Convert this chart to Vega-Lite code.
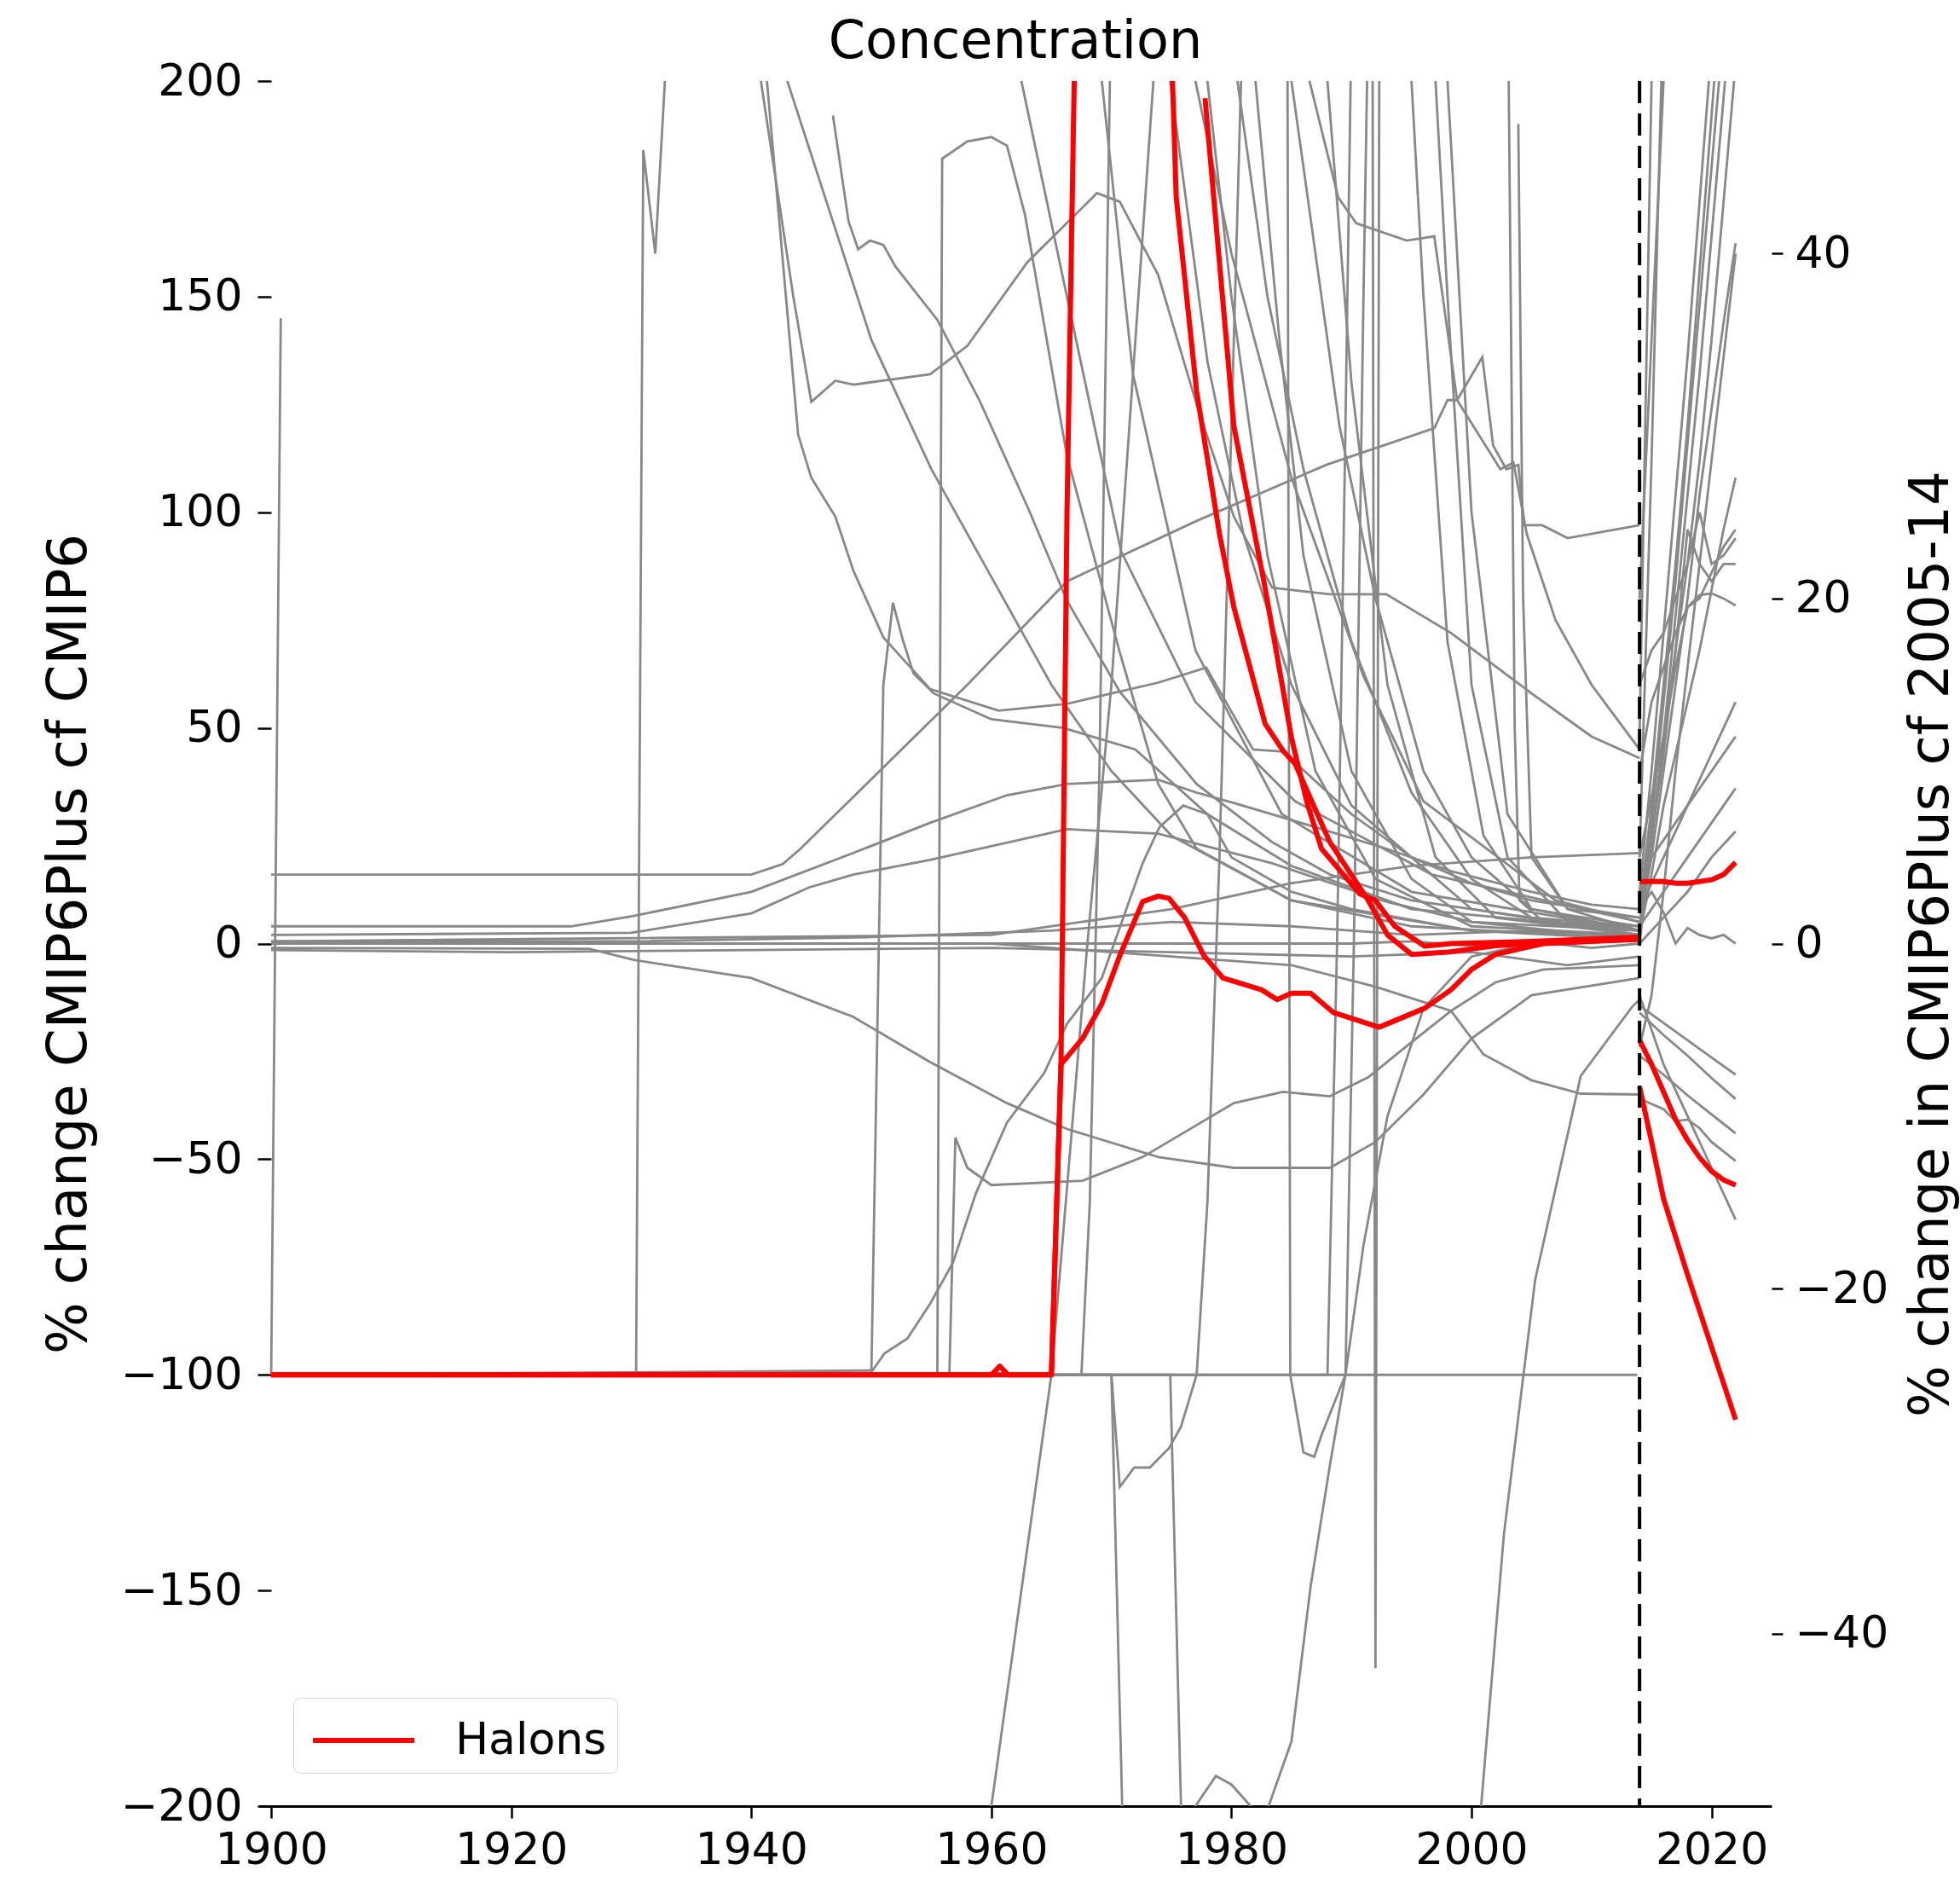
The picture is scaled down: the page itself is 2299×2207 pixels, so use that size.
{
"$schema":"https://vega.github.io/schema/vega-lite/v6.json",
"autosize":{"type":"none"},
"width":1774,"height":2023,
"padding":{"left":304,"top":95,"right":221,"bottom":89},
"background":"white",
"title":{"text":"Concentration","fontSize":62,"fontWeight":"normal","font":"DejaVu Sans","color":"black","anchor":"middle","offset":-12},
"config":{"view":{"stroke":null},"font":"DejaVu Sans","axis":{"labelFont":"DejaVu Sans","titleFont":"DejaVu Sans","labelColor":"black","tickColor":"black","titleColor":"black","titleFontWeight":"normal","grid":false,"labelFlush":false,"labelOverlap":false}},
"datasets":{
"gl":[
{"s":"a01","x":1900,"y":0},{"s":"a01","x":1990,"y":0},{"s":"a01","x":1995,"y":0.5},{"s":"a01","x":2000,"y":-0.5},{"s":"a01","x":2005,"y":0.5},{"s":"a01","x":2010,"y":-1},{"s":"a01","x":2014,"y":0},
{"s":"a02","x":1900,"y":0.5},{"s":"a02","x":1930,"y":0.5},{"s":"a02","x":1950,"y":1.5},{"s":"a02","x":1965,"y":3},{"s":"a02","x":1975,"y":5},{"s":"a02","x":1985,"y":4},{"s":"a02","x":1995,"y":2},{"s":"a02","x":2005,"y":3},{"s":"a02","x":2014,"y":2},
{"s":"a03","x":1900,"y":-1.5},{"s":"a03","x":1920,"y":-2},{"s":"a03","x":1940,"y":-1.5},{"s":"a03","x":1960,"y":-1},{"s":"a03","x":1975,"y":-2},{"s":"a03","x":1990,"y":-3},{"s":"a03","x":2000,"y":-2},{"s":"a03","x":2008,"y":-5},{"s":"a03","x":2014,"y":-3},
{"s":"a04","x":1900,"y":16},{"s":"a04","x":1940,"y":16},{"s":"a04","x":1942.6,"y":18.4},{"s":"a04","x":1944.1,"y":22},{"s":"a04","x":1948.5,"y":34},{"s":"a04","x":1958,"y":60},{"s":"a04","x":1966.3,"y":84},{"s":"a04","x":1977.1,"y":98},{"s":"a04","x":1987.9,"y":111},{"s":"a04","x":1996.9,"y":119.5},{"s":"a04","x":1998,"y":126},{"s":"a04","x":1998.8,"y":126},{"s":"a04","x":2000.9,"y":136},{"s":"a04","x":2001.8,"y":115.5},{"s":"a04","x":2002.9,"y":110},{"s":"a04","x":2003.9,"y":111},{"s":"a04","x":2004.4,"y":97},{"s":"a04","x":2005.9,"y":97},{"s":"a04","x":2008,"y":94},{"s":"a04","x":2014,"y":97},
{"s":"a05","x":1900,"y":4},{"s":"a05","x":1925,"y":4},{"s":"a05","x":1930,"y":6.3},{"s":"a05","x":1940,"y":12},{"s":"a05","x":1948.5,"y":21},{"s":"a05","x":1954.9,"y":28},{"s":"a05","x":1961.3,"y":34.4},{"s":"a05","x":1966.3,"y":37},{"s":"a05","x":1973.9,"y":38},{"s":"a05","x":1977.1,"y":35},{"s":"a05","x":1980.2,"y":32.6},{"s":"a05","x":1986.6,"y":27.3},{"s":"a05","x":1992.9,"y":22},{"s":"a05","x":1998.3,"y":16.8},{"s":"a05","x":2005,"y":12},{"s":"a05","x":2010,"y":9},{"s":"a05","x":2014,"y":8},
{"s":"a06","x":1900,"y":2},{"s":"a06","x":1930,"y":2.5},{"s":"a06","x":1940,"y":7},{"s":"a06","x":1944.8,"y":13},{"s":"a06","x":1948.5,"y":16},{"s":"a06","x":1954.9,"y":19.4},{"s":"a06","x":1966.3,"y":26.5},{"s":"a06","x":1973.9,"y":25.5},{"s":"a06","x":1983.4,"y":18.6},{"s":"a06","x":1992.9,"y":9.7},{"s":"a06","x":2000,"y":5},{"s":"a06","x":2014,"y":3},
{"s":"a07","x":1900,"y":-1},{"s":"a07","x":1926.5,"y":-1.2},{"s":"a07","x":1930.2,"y":-3.8},{"s":"a07","x":1940,"y":-8},{"s":"a07","x":1948.5,"y":-17},{"s":"a07","x":1954.9,"y":-27.5},{"s":"a07","x":1961.3,"y":-37},{"s":"a07","x":1966.3,"y":-43},{"s":"a07","x":1973.9,"y":-49.5},{"s":"a07","x":1980.2,"y":-52},{"s":"a07","x":1988.2,"y":-52},{"s":"a07","x":1992,"y":-46},{"s":"a07","x":1996,"y":-35},{"s":"a07","x":2000,"y":-22},{"s":"a07","x":2005,"y":-12},{"s":"a07","x":2014,"y":-8},
{"s":"a08","x":1900,"y":-100},{"s":"a08","x":1956.5,"y":-100},{"s":"a08","x":1957,"y":-45},{"s":"a08","x":1958,"y":-52},{"s":"a08","x":1960,"y":-56},{"s":"a08","x":1967.6,"y":-55},{"s":"a08","x":1972.6,"y":-49.5},{"s":"a08","x":1980.2,"y":-37},{"s":"a08","x":1984.3,"y":-34.4},{"s":"a08","x":1988.2,"y":-35.4},{"s":"a08","x":1991.4,"y":-31},{"s":"a08","x":1994.5,"y":-24},{"s":"a08","x":1998.3,"y":-15.6},{"s":"a08","x":2002,"y":-9},{"s":"a08","x":2006,"y":-6},{"s":"a08","x":2014,"y":-5},
{"s":"a09","x":1900,"y":0},{"s":"a09","x":1960,"y":0},{"s":"a09","x":1985,"y":-5},{"s":"a09","x":1992,"y":-10},{"s":"a09","x":1998.3,"y":-15.6},{"s":"a09","x":2001,"y":-25.7},{"s":"a09","x":2005,"y":-31.7},{"s":"a09","x":2009.1,"y":-34.8},{"s":"a09","x":2014,"y":-35},
{"s":"a10","x":1900,"y":300},{"s":"a10","x":1939.5,"y":300},{"s":"a10","x":1940.8,"y":200},{"s":"a10","x":1943.5,"y":150},{"s":"a10","x":1945,"y":125.6},{"s":"a10","x":1947,"y":130.5},{"s":"a10","x":1948.5,"y":129.6},{"s":"a10","x":1954.9,"y":132},{"s":"a10","x":1958,"y":138.6},{"s":"a10","x":1963,"y":158},{"s":"a10","x":1968.8,"y":174},{"s":"a10","x":1970.7,"y":172},{"s":"a10","x":1973.9,"y":155},{"s":"a10","x":1977.1,"y":125},{"s":"a10","x":1980.2,"y":99},{"s":"a10","x":1983.4,"y":82.5},{"s":"a10","x":1988.2,"y":81},{"s":"a10","x":1992.9,"y":81},{"s":"a10","x":1998.3,"y":72},{"s":"a10","x":2005,"y":58},{"s":"a10","x":2010,"y":48},{"s":"a10","x":2014,"y":43},
{"s":"a11","x":1900,"y":-100},{"s":"a11","x":1930.4,"y":-100},{"s":"a11","x":1931,"y":184},{"s":"a11","x":1932,"y":160},{"s":"a11","x":1932.8,"y":200},{"s":"a11","x":1933.5,"y":300},{"s":"a11","x":1940,"y":300},{"s":"a11","x":1941.3,"y":200},{"s":"a11","x":1943.9,"y":118},{"s":"a11","x":1945,"y":108},{"s":"a11","x":1947,"y":99},{"s":"a11","x":1948.5,"y":86.5},{"s":"a11","x":1951,"y":71},{"s":"a11","x":1954.9,"y":59},{"s":"a11","x":1960.6,"y":54},{"s":"a11","x":1966.3,"y":55.6},{"s":"a11","x":1973.9,"y":60.5},{"s":"a11","x":1977.9,"y":64},{"s":"a11","x":1981.8,"y":45},{"s":"a11","x":1984.3,"y":44.5},{"s":"a11","x":1985.3,"y":42},{"s":"a11","x":1990,"y":30},{"s":"a11","x":1995,"y":20},{"s":"a11","x":2000,"y":14},{"s":"a11","x":2005,"y":10},{"s":"a11","x":2014,"y":6},
{"s":"a12","x":1946.8,"y":192},{"s":"a12","x":1948.1,"y":167.5},{"s":"a12","x":1948.9,"y":161},{"s":"a12","x":1949.9,"y":163},{"s":"a12","x":1951,"y":162},{"s":"a12","x":1952,"y":157},{"s":"a12","x":1955.5,"y":144.6},{"s":"a12","x":1959,"y":126},{"s":"a12","x":1963.1,"y":100.7},{"s":"a12","x":1966.3,"y":79.5},{"s":"a12","x":1970.7,"y":58.4},{"s":"a12","x":1977.1,"y":37},{"s":"a12","x":1983.4,"y":23.5},{"s":"a12","x":1988.2,"y":16},{"s":"a12","x":1995,"y":10},{"s":"a12","x":2005,"y":6},{"s":"a12","x":2014,"y":4},
{"s":"a13","x":1900,"y":-100},{"s":"a13","x":1955.5,"y":-100},{"s":"a13","x":1955.9,"y":182},{"s":"a13","x":1958,"y":186},{"s":"a13","x":1960,"y":187},{"s":"a13","x":1961.3,"y":185},{"s":"a13","x":1962.8,"y":169},{"s":"a13","x":1966.3,"y":113},{"s":"a13","x":1970.7,"y":67.5},{"s":"a13","x":1973.9,"y":37},{"s":"a13","x":1977.1,"y":22},{"s":"a13","x":1985,"y":10},{"s":"a13","x":1995,"y":4},{"s":"a13","x":2014,"y":1},
{"s":"a14","x":1900,"y":-100},{"s":"a14","x":1950,"y":-100},{"s":"a14","x":1951,"y":60},{"s":"a14","x":1951.8,"y":79},{"s":"a14","x":1952.6,"y":70.6},{"s":"a14","x":1953.5,"y":62.7},{"s":"a14","x":1955.2,"y":58},{"s":"a14","x":1960,"y":52},{"s":"a14","x":1966,"y":50},{"s":"a14","x":1972,"y":45},{"s":"a14","x":1978,"y":30},{"s":"a14","x":1985,"y":18},{"s":"a14","x":1995,"y":8},{"s":"a14","x":2014,"y":3},
{"s":"a15","x":1900,"y":-100},{"s":"a15","x":1950.1,"y":-99},{"s":"a15","x":1951.1,"y":-95},{"s":"a15","x":1953,"y":-91.6},{"s":"a15","x":1954.9,"y":-83.5},{"s":"a15","x":1956.8,"y":-74},{"s":"a15","x":1958.7,"y":-58},{"s":"a15","x":1961.3,"y":-41.5},{"s":"a15","x":1964.4,"y":-30},{"s":"a15","x":1966.3,"y":-18.6},{"s":"a15","x":1969.2,"y":-8},{"s":"a15","x":1972.6,"y":18.6},{"s":"a15","x":1974,"y":27},{"s":"a15","x":1976,"y":32},{"s":"a15","x":1978,"y":30},{"s":"a15","x":1980,"y":20},{"s":"a15","x":1985,"y":12},{"s":"a15","x":1990,"y":8},{"s":"a15","x":2000,"y":3},{"s":"a15","x":2014,"y":2},
{"s":"a16","x":1900,"y":-300},{"s":"a16","x":1959,"y":-300},{"s":"a16","x":1960,"y":-200},{"s":"a16","x":1965,"y":-100},{"s":"a16","x":1966.5,"y":-50},{"s":"a16","x":1968,"y":0},{"s":"a16","x":1970,"y":60},{"s":"a16","x":1972,"y":140},{"s":"a16","x":1973.5,"y":200},{"s":"a16","x":1975,"y":280},{"s":"a16","x":1980,"y":280},{"s":"a16","x":1982,"y":200},{"s":"a16","x":1984,"y":140},{"s":"a16","x":1986,"y":90},{"s":"a16","x":1990,"y":40},{"s":"a16","x":1995,"y":15},{"s":"a16","x":2000,"y":5},{"s":"a16","x":2014,"y":1},
{"s":"a17","x":1900,"y":-100},{"s":"a17","x":1967.5,"y":-100},{"s":"a17","x":1968.2,"y":-60},{"s":"a17","x":1969,"y":40},{"s":"a17","x":1969.6,"y":150},{"s":"a17","x":1970.2,"y":260},{"s":"a17","x":1976,"y":260},{"s":"a17","x":1978,"y":200},{"s":"a17","x":1980,"y":150},{"s":"a17","x":1983,"y":90},{"s":"a17","x":1987,"y":40},{"s":"a17","x":1992,"y":15},{"s":"a17","x":2000,"y":4},{"s":"a17","x":2014,"y":2},
{"s":"a18","x":1900,"y":-100},{"s":"a18","x":1970,"y":-100},{"s":"a18","x":1970.7,"y":-126},{"s":"a18","x":1971.9,"y":-121.5},{"s":"a18","x":1973.2,"y":-121.5},{"s":"a18","x":1974.8,"y":-117},{"s":"a18","x":1975.8,"y":-112},{"s":"a18","x":1977.1,"y":-100},{"s":"a18","x":1978,"y":-60},{"s":"a18","x":1979,"y":20},{"s":"a18","x":1980,"y":120},{"s":"a18","x":1980.8,"y":200},{"s":"a18","x":1981.5,"y":280},{"s":"a18","x":1986,"y":280},{"s":"a18","x":1988,"y":200},{"s":"a18","x":1990,"y":130},{"s":"a18","x":1993,"y":60},{"s":"a18","x":1997,"y":20},{"s":"a18","x":2002,"y":6},{"s":"a18","x":2014,"y":2},
{"s":"a19","x":1900,"y":-100},{"s":"a19","x":1970,"y":-100},{"s":"a19","x":1970.9,"y":-200},{"s":"a19","x":1971.5,"y":-280},{"s":"a19","x":1995,"y":-280},{"s":"a19","x":1998,"y":-250},{"s":"a19","x":2000.8,"y":-200},{"s":"a19","x":2002.7,"y":-137},{"s":"a19","x":2005.3,"y":-78},{"s":"a19","x":2009.1,"y":-30.7},{"s":"a19","x":2013.4,"y":-14.6},{"s":"a19","x":2014,"y":-13},
{"s":"a20","x":1900,"y":-100},{"s":"a20","x":1974.9,"y":-100},{"s":"a20","x":1975.8,"y":-200},{"s":"a20","x":1976.3,"y":-215},{"s":"a20","x":1977,"y":-200},{"s":"a20","x":1978.7,"y":-193},{"s":"a20","x":1980,"y":-195},{"s":"a20","x":1981.6,"y":-200},{"s":"a20","x":1982.3,"y":-207},{"s":"a20","x":1983.1,"y":-200},{"s":"a20","x":1985,"y":-185},{"s":"a20","x":1986.6,"y":-149},{"s":"a20","x":1988.2,"y":-121},{"s":"a20","x":1989.5,"y":-100},{"s":"a20","x":1991,"y":-70},{"s":"a20","x":1993,"y":-40},{"s":"a20","x":1996,"y":-15},{"s":"a20","x":2000,"y":-3},{"s":"a20","x":2005,"y":0},{"s":"a20","x":2014,"y":1},
{"s":"a21","x":1900,"y":300},{"s":"a21","x":1984.6,"y":300},{"s":"a21","x":1984.9,"y":-100},{"s":"a21","x":1986,"y":-118},{"s":"a21","x":1986.9,"y":-119},{"s":"a21","x":1987.5,"y":-114},{"s":"a21","x":1989.5,"y":-100},{"s":"a21","x":1990.2,"y":0},{"s":"a21","x":1991,"y":150},{"s":"a21","x":1991.6,"y":250},{"s":"a21","x":1996,"y":250},{"s":"a21","x":1998,"y":150},{"s":"a21","x":2000,"y":60},{"s":"a21","x":2003,"y":20},{"s":"a21","x":2008,"y":5},{"s":"a21","x":2014,"y":3},
{"s":"a22","x":1900,"y":300},{"s":"a22","x":1991.7,"y":300},{"s":"a22","x":1992,"y":-168},{"s":"a22","x":1992.4,"y":300},{"s":"a22","x":1996,"y":300},{"s":"a22","x":1998,"y":200},{"s":"a22","x":2000,"y":100},{"s":"a22","x":2003,"y":30},{"s":"a22","x":2008,"y":8},{"s":"a22","x":2014,"y":3},
{"s":"a23","x":1900,"y":300},{"s":"a23","x":1978,"y":300},{"s":"a23","x":1980.5,"y":200},{"s":"a23","x":1983,"y":150},{"s":"a23","x":1986,"y":110},{"s":"a23","x":1990,"y":70},{"s":"a23","x":1995,"y":35},{"s":"a23","x":2000,"y":15},{"s":"a23","x":2005,"y":6},{"s":"a23","x":2014,"y":2},
{"s":"a24","x":1900,"y":300},{"s":"a24","x":1983,"y":300},{"s":"a24","x":1985,"y":200},{"s":"a24","x":1987,"y":160},{"s":"a24","x":1989,"y":120},{"s":"a24","x":1992,"y":80},{"s":"a24","x":1996,"y":40},{"s":"a24","x":2000,"y":20},{"s":"a24","x":2005,"y":8},{"s":"a24","x":2014,"y":4},
{"s":"a25","x":1986.5,"y":200},{"s":"a25","x":1988.9,"y":173},{"s":"a25","x":1990.4,"y":167},{"s":"a25","x":1994.6,"y":163},{"s":"a25","x":1996.9,"y":164},{"s":"a25","x":1998.8,"y":126},{"s":"a25","x":2002.4,"y":110},{"s":"a25","x":2003.5,"y":111.5},{"s":"a25","x":2004.6,"y":95},{"s":"a25","x":2007,"y":75},{"s":"a25","x":2010,"y":60},{"s":"a25","x":2014,"y":45},
{"s":"a26","x":1900,"y":300},{"s":"a26","x":2002.9,"y":300},{"s":"a26","x":2003.1,"y":200},{"s":"a26","x":2003.6,"y":50},{"s":"a26","x":2004,"y":10},{"s":"a26","x":2006,"y":5},{"s":"a26","x":2014,"y":3},
{"s":"a27","x":2003.9,"y":190},{"s":"a27","x":2004.3,"y":80},{"s":"a27","x":2005,"y":20},{"s":"a27","x":2008,"y":8},{"s":"a27","x":2014,"y":6},
{"s":"a28","x":1900,"y":-100},{"s":"a28","x":1988,"y":-100},{"s":"a28","x":1988.8,"y":0},{"s":"a28","x":1989.5,"y":120},{"s":"a28","x":1990.2,"y":250},{"s":"a28","x":1994,"y":250},{"s":"a28","x":1996,"y":150},{"s":"a28","x":1998,"y":70},{"s":"a28","x":2001,"y":25},{"s":"a28","x":2005,"y":8},{"s":"a28","x":2014,"y":3},
{"s":"a29","x":1900,"y":300},{"s":"a29","x":1973.5,"y":300},{"s":"a29","x":1974.9,"y":200},{"s":"a29","x":1978,"y":135},{"s":"a29","x":1981,"y":95},{"s":"a29","x":1985,"y":60},{"s":"a29","x":1990,"y":32},{"s":"a29","x":2000,"y":8},{"s":"a29","x":2014,"y":2},
{"s":"a30","x":1976.5,"y":220},{"s":"a30","x":1977,"y":200},{"s":"a30","x":1980,"y":160},{"s":"a30","x":1985,"y":108},{"s":"a30","x":1991,"y":62},{"s":"a30","x":1996,"y":33},{"s":"a30","x":2007,"y":10},{"s":"a30","x":2014,"y":5},
{"s":"a31","x":1900,"y":300},{"s":"a31","x":1961,"y":300},{"s":"a31","x":1962.5,"y":200},{"s":"a31","x":1966.6,"y":146},{"s":"a31","x":1970.8,"y":91},{"s":"a31","x":1977,"y":56},{"s":"a31","x":1985.3,"y":33},{"s":"a31","x":1996.7,"y":16},{"s":"a31","x":2014,"y":5},
{"s":"a32","x":1968,"y":250},{"s":"a32","x":1969.2,"y":200},{"s":"a32","x":1971.8,"y":132},{"s":"a32","x":1977,"y":68},{"s":"a32","x":1984.2,"y":30},{"s":"a32","x":1995,"y":12},{"s":"a32","x":2014,"y":3},
{"s":"a33","x":1900,"y":300},{"s":"a33","x":1941,"y":300},{"s":"a33","x":1943,"y":200},{"s":"a33","x":1950,"y":140},{"s":"a33","x":1955,"y":110},{"s":"a33","x":1960,"y":85},{"s":"a33","x":1965,"y":60},{"s":"a33","x":1970,"y":40},{"s":"a33","x":1975,"y":25},{"s":"a33","x":1985,"y":10},{"s":"a33","x":2000,"y":3},{"s":"a33","x":2014,"y":1},
{"s":"a34","x":1900,"y":-100},{"s":"a34","x":2013.8,"y":-100},
{"s":"a35","x":1900,"y":-100},{"s":"a35","x":1900.8,"y":145},
{"s":"a36","x":1900,"y":0.5},{"s":"a36","x":1960,"y":2},{"s":"a36","x":1975,"y":8},{"s":"a36","x":1985,"y":14},{"s":"a36","x":1995,"y":18},{"s":"a36","x":2005,"y":20},{"s":"a36","x":2014,"y":21}
],
"rl":[
{"s":"h1","x":1900,"y":-100},{"s":"h1","x":1960,"y":-100},{"s":"h1","x":1960.7,"y":-98},{"s":"h1","x":1961.4,"y":-100},{"s":"h1","x":1965,"y":-100},{"s":"h1","x":1965.8,"y":-28},{"s":"h1","x":1966.3,"y":100},{"s":"h1","x":1966.9,"y":200},{"s":"h1","x":1967.4,"y":300},{"s":"h1","x":1974.5,"y":300},{"s":"h1","x":1975.1,"y":199},{"s":"h1","x":1975.4,"y":173},{"s":"h1","x":1977.1,"y":128},{"s":"h1","x":1979,"y":95},{"s":"h1","x":1980.2,"y":78},{"s":"h1","x":1982.8,"y":51},{"s":"h1","x":1984.3,"y":44.7},{"s":"h1","x":1985.3,"y":41.7},{"s":"h1","x":1988.2,"y":23.5},{"s":"h1","x":1991.4,"y":10},{"s":"h1","x":1993,"y":2},{"s":"h1","x":1995,"y":-2.5},{"s":"h1","x":1998,"y":-2},{"s":"h1","x":2002,"y":-0.5},{"s":"h1","x":2008,"y":0.5},{"s":"h1","x":2014,"y":1},
{"s":"h2","x":1900,"y":-100},{"s":"h2","x":1965,"y":-100},{"s":"h2","x":1965.8,"y":-28},{"s":"h2","x":1967.6,"y":-22},{"s":"h2","x":1969.2,"y":-14},{"s":"h2","x":1970.7,"y":-2.8},{"s":"h2","x":1972.6,"y":9.7},{"s":"h2","x":1973.9,"y":11},{"s":"h2","x":1974.8,"y":10.5},{"s":"h2","x":1976.1,"y":6},{"s":"h2","x":1977.7,"y":-2.8},{"s":"h2","x":1979.3,"y":-8},{"s":"h2","x":1982.5,"y":-10.7},{"s":"h2","x":1983.8,"y":-13},{"s":"h2","x":1985,"y":-11.5},{"s":"h2","x":1986.6,"y":-11.5},{"s":"h2","x":1988.5,"y":-16},{"s":"h2","x":1992.3,"y":-19.4},{"s":"h2","x":1996.1,"y":-15},{"s":"h2","x":1998.3,"y":-10.7},{"s":"h2","x":2000,"y":-6},{"s":"h2","x":2002,"y":-2.5},{"s":"h2","x":2006,"y":0},{"s":"h2","x":2014,"y":1},
{"s":"h3","x":1977.8,"y":196},{"s":"h3","x":1979,"y":158},{"s":"h3","x":1980.2,"y":120},{"s":"h3","x":1982.8,"y":82.5},{"s":"h3","x":1985,"y":47.7},{"s":"h3","x":1986.3,"y":32.6},{"s":"h3","x":1987.5,"y":22},{"s":"h3","x":1990.7,"y":11.5},{"s":"h3","x":1992,"y":10},{"s":"h3","x":1993.6,"y":4},{"s":"h3","x":1996.1,"y":-0.6},{"s":"h3","x":1998.3,"y":0},{"s":"h3","x":2005,"y":0.5},{"s":"h3","x":2014,"y":1.5}
],
"gr":[
{"s":"r01","x":2014,"y":2},{"s":"r01","x":2015,"y":8},{"s":"r01","x":2016,"y":15},{"s":"r01","x":2017,"y":22},{"s":"r01","x":2018,"y":30},{"s":"r01","x":2019,"y":39},{"s":"r01","x":2020,"y":48},{"s":"r01","x":2021,"y":57},{"s":"r01","x":2022,"y":66},
{"s":"r02","x":2014,"y":1},{"s":"r02","x":2015,"y":7},{"s":"r02","x":2016,"y":14},{"s":"r02","x":2017,"y":21},{"s":"r02","x":2018,"y":29},{"s":"r02","x":2019,"y":37},{"s":"r02","x":2020,"y":45},{"s":"r02","x":2021,"y":53},{"s":"r02","x":2022,"y":62},
{"s":"r03","x":2014,"y":3},{"s":"r03","x":2015,"y":10},{"s":"r03","x":2016,"y":18},{"s":"r03","x":2017,"y":26},{"s":"r03","x":2018,"y":34},{"s":"r03","x":2019,"y":43},{"s":"r03","x":2020,"y":52},{"s":"r03","x":2021,"y":61},{"s":"r03","x":2022,"y":70},
{"s":"r04","x":2014,"y":0},{"s":"r04","x":2015,"y":6},{"s":"r04","x":2016,"y":12},{"s":"r04","x":2017,"y":19},{"s":"r04","x":2018,"y":26},{"s":"r04","x":2019,"y":33},{"s":"r04","x":2020,"y":41},{"s":"r04","x":2021,"y":49},{"s":"r04","x":2022,"y":57},
{"s":"r05","x":2014,"y":5},{"s":"r05","x":2015,"y":28},{"s":"r05","x":2016,"y":55},
{"s":"r06","x":2014,"y":12},{"s":"r06","x":2015,"y":50},{"s":"r06","x":2016,"y":90},
{"s":"r07","x":2014,"y":1},{"s":"r07","x":2015,"y":5},{"s":"r07","x":2016,"y":10},{"s":"r07","x":2017,"y":15},{"s":"r07","x":2018,"y":20},{"s":"r07","x":2019,"y":26},{"s":"r07","x":2020,"y":31},{"s":"r07","x":2021,"y":36},{"s":"r07","x":2022,"y":40.6},
{"s":"r08","x":2014,"y":2},{"s":"r08","x":2015,"y":6},{"s":"r08","x":2016,"y":11},{"s":"r08","x":2017,"y":17},{"s":"r08","x":2018,"y":22},{"s":"r08","x":2019,"y":28},{"s":"r08","x":2020,"y":35},{"s":"r08","x":2021,"y":43},{"s":"r08","x":2022,"y":51},
{"s":"r09","x":2014,"y":0.5},{"s":"r09","x":2015,"y":4},{"s":"r09","x":2016,"y":8},{"s":"r09","x":2017,"y":11},{"s":"r09","x":2018,"y":14},{"s":"r09","x":2019,"y":17},{"s":"r09","x":2020,"y":20.5},{"s":"r09","x":2021,"y":24},{"s":"r09","x":2022,"y":27},
{"s":"r10","x":2014,"y":2},{"s":"r10","x":2015,"y":6},{"s":"r10","x":2016,"y":12},{"s":"r10","x":2017,"y":16},{"s":"r10","x":2018,"y":19.5},{"s":"r10","x":2019,"y":20},{"s":"r10","x":2020,"y":21.5},{"s":"r10","x":2021,"y":23},{"s":"r10","x":2022,"y":24},
{"s":"r11","x":2014,"y":10},{"s":"r11","x":2015,"y":14},{"s":"r11","x":2016,"y":16},{"s":"r11","x":2017,"y":18},{"s":"r11","x":2018,"y":19.5},{"s":"r11","x":2019,"y":20.2},{"s":"r11","x":2020,"y":20.3},{"s":"r11","x":2021,"y":20},{"s":"r11","x":2022,"y":19.6},
{"s":"r12","x":2014,"y":2},{"s":"r12","x":2016,"y":5},{"s":"r12","x":2018,"y":8},{"s":"r12","x":2020,"y":11},{"s":"r12","x":2022,"y":14},
{"s":"r13","x":2014,"y":4},{"s":"r13","x":2016,"y":6},{"s":"r13","x":2018,"y":8},{"s":"r13","x":2020,"y":10},{"s":"r13","x":2022,"y":12},
{"s":"r14","x":2014,"y":1},{"s":"r14","x":2016,"y":3},{"s":"r14","x":2018,"y":5},{"s":"r14","x":2020,"y":7},{"s":"r14","x":2022,"y":9},
{"s":"r15","x":2014,"y":0},{"s":"r15","x":2016,"y":1.5},{"s":"r15","x":2018,"y":3},{"s":"r15","x":2020,"y":5},{"s":"r15","x":2022,"y":6.5},
{"s":"r16","x":2014,"y":2},{"s":"r16","x":2015,"y":3},{"s":"r16","x":2016,"y":1.8},{"s":"r16","x":2017,"y":0},{"s":"r16","x":2018,"y":0.9},{"s":"r16","x":2019,"y":0.5},{"s":"r16","x":2020,"y":0.3},{"s":"r16","x":2021,"y":0.5},{"s":"r16","x":2022,"y":0},
{"s":"r17","x":2014,"y":-3.6},{"s":"r17","x":2016,"y":-4.6},{"s":"r17","x":2018,"y":-5.6},{"s":"r17","x":2020,"y":-6.6},{"s":"r17","x":2022,"y":-7.6},
{"s":"r18","x":2014,"y":-4},{"s":"r18","x":2016,"y":-5.3},{"s":"r18","x":2018,"y":-6.5},{"s":"r18","x":2020,"y":-7.8},{"s":"r18","x":2022,"y":-9},
{"s":"r19","x":2014,"y":-6.5},{"s":"r19","x":2016,"y":-7.6},{"s":"r19","x":2018,"y":-8.8},{"s":"r19","x":2020,"y":-9.9},{"s":"r19","x":2022,"y":-11},
{"s":"r20","x":2014,"y":-9},{"s":"r20","x":2016,"y":-9.6},{"s":"r20","x":2017,"y":-10.3},{"s":"r20","x":2018,"y":-10.2},{"s":"r20","x":2019,"y":-10.7},{"s":"r20","x":2020,"y":-11.5},{"s":"r20","x":2022,"y":-12.6},
{"s":"r21","x":2014,"y":-3},{"s":"r21","x":2015,"y":-5},{"s":"r21","x":2016,"y":-7},{"s":"r21","x":2018,"y":-10},{"s":"r21","x":2020,"y":-13},{"s":"r21","x":2022,"y":-16},
{"s":"r22","x":2014,"y":-6},{"s":"r22","x":2015,"y":-3},{"s":"r22","x":2016,"y":3},{"s":"r22","x":2017,"y":10},{"s":"r22","x":2018,"y":16},{"s":"r22","x":2019,"y":22},{"s":"r22","x":2020,"y":28},{"s":"r22","x":2021,"y":34},{"s":"r22","x":2022,"y":40},
{"s":"r23","x":2014,"y":15},{"s":"r23","x":2015,"y":17},{"s":"r23","x":2016,"y":18},{"s":"r23","x":2018,"y":22},{"s":"r23","x":2019,"y":25},{"s":"r23","x":2020,"y":22},{"s":"r23","x":2021,"y":22.5},{"s":"r23","x":2022,"y":23.5},
{"s":"r24","x":2014,"y":5},{"s":"r24","x":2016,"y":12},{"s":"r24","x":2017,"y":17},{"s":"r24","x":2018,"y":24},{"s":"r24","x":2019,"y":22},{"s":"r24","x":2020,"y":21},{"s":"r24","x":2021,"y":22},{"s":"r24","x":2022,"y":22},
{"s":"r25","x":2014,"y":20},{"s":"r25","x":2015,"y":35},{"s":"r25","x":2016,"y":50}
],
"rr":[
{"s":"k1","x":2014,"y":3.6},{"s":"k1","x":2015,"y":3.6},{"s":"k1","x":2016,"y":3.6},{"s":"k1","x":2017,"y":3.5},{"s":"k1","x":2018,"y":3.5},{"s":"k1","x":2019,"y":3.6},{"s":"k1","x":2020,"y":3.7},{"s":"k1","x":2021,"y":4.0},{"s":"k1","x":2022,"y":4.7},
{"s":"k2","x":2014,"y":-5.6},{"s":"k2","x":2015,"y":-7.0},{"s":"k2","x":2016,"y":-8.6},{"s":"k2","x":2017,"y":-10.2},{"s":"k2","x":2018,"y":-11.4},{"s":"k2","x":2019,"y":-12.4},{"s":"k2","x":2020,"y":-13.2},{"s":"k2","x":2021,"y":-13.7},{"s":"k2","x":2022,"y":-14},
{"s":"k3","x":2014,"y":-8.3},{"s":"k3","x":2015,"y":-11.5},{"s":"k3","x":2016,"y":-14.8},{"s":"k3","x":2017,"y":-17},{"s":"k3","x":2018,"y":-19.2},{"s":"k3","x":2019,"y":-21.3},{"s":"k3","x":2020,"y":-23.4},{"s":"k3","x":2021,"y":-25.5},{"s":"k3","x":2022,"y":-27.6}
]
},
"encoding":{
"x":{"field":"x","type":"quantitative","scale":{"domain":[1899,2025],"nice":false,"zero":false},
"axis":{"orient":"bottom","values":[1900,1920,1940,1960,1980,2000,2020],"format":"d","title":null,"domainColor":"black","domainWidth":3,"tickColor":"black","tickWidth":2.5,"tickSize":14,"labelFontSize":52,"labelPadding":12}}
},
"layer":[
{"encoding":{"y":{"field":"y","type":"quantitative","scale":{"domain":[-200,200],"nice":false,"zero":false},
"axis":{"orient":"left","offset":-14,"domain":false,"values":[-200,-150,-100,-50,0,50,100,150,200],"tickSize":16,"tickWidth":2.5,"labelPadding":18,"labelFontSize":52,"title":"% change CMIP6Plus cf CMIP6","titleFontSize":64,"titleX":-237,"titleY":1011.5,"titleAngle":-90,"titleBaseline":"middle","titleAlign":"center"}}},
"layer":[
{"data":{"name":"gl"},"mark":{"type":"line","clip":true,"color":"#888888","strokeWidth":2.8},"encoding":{"detail":{"field":"s","type":"nominal"}}},
{"data":{"name":"rl"},"mark":{"type":"line","clip":true,"strokeWidth":6,"strokeJoin":"round"},"encoding":{"detail":{"field":"s","type":"nominal"},
"color":{"datum":"Halons","scale":{"domain":["Halons"],"range":["#ff0000"]},"legend":{"title":null,"orient":"none","legendX":40,"legendY":1896,"symbolType":"M-0.77,0H2.63","symbolSize":4900,"symbolStrokeWidth":6,"symbolFillColor":"transparent","labelFontSize":52,"labelOffset":102,"labelLimit":0,"padding":12,"strokeColor":"#d4d4d4","fillColor":"white","cornerRadius":8,"labelFont":"DejaVu Sans","labelColor":"black"}}}}
]},
{"encoding":{"y":{"field":"y","type":"quantitative","scale":{"domain":[-50,50],"nice":false,"zero":false},
"axis":{"orient":"right","domain":false,"values":[-40,-20,0,20,40],"tickSize":13,"tickWidth":2.5,"labelPadding":14,"labelFontSize":52,"title":"% change in CMIP6Plus cf 2005-14","titleFontSize":64,"titleX":187,"titleY":1011.5,"titleAngle":-90,"titleBaseline":"middle","titleAlign":"center"}}},
"layer":[
{"data":{"name":"gr"},"mark":{"type":"line","clip":true,"color":"#888888","strokeWidth":2.8},"encoding":{"detail":{"field":"s","type":"nominal"}}},
{"data":{"name":"rr"},"mark":{"type":"line","clip":true,"strokeWidth":6,"strokeJoin":"round"},"encoding":{"detail":{"field":"s","type":"nominal"},
"color":{"datum":"Halons","scale":{"domain":["Halons"],"range":["#ff0000"]},"legend":{"title":null,"orient":"none","legendX":40,"legendY":1896,"symbolType":"M-0.77,0H2.63","symbolSize":4900,"symbolStrokeWidth":6,"symbolFillColor":"transparent","labelFontSize":52,"labelOffset":102,"labelLimit":0,"padding":12,"strokeColor":"#d4d4d4","fillColor":"white","cornerRadius":8,"labelFont":"DejaVu Sans","labelColor":"black"}}}}
]},
{"data":{"values":[{"x":2014}]},"mark":{"type":"rule","color":"black","strokeDash":[26,12],"strokeWidth":4},"encoding":{}}
],
"resolve":{"scale":{"y":"independent"}}
}
